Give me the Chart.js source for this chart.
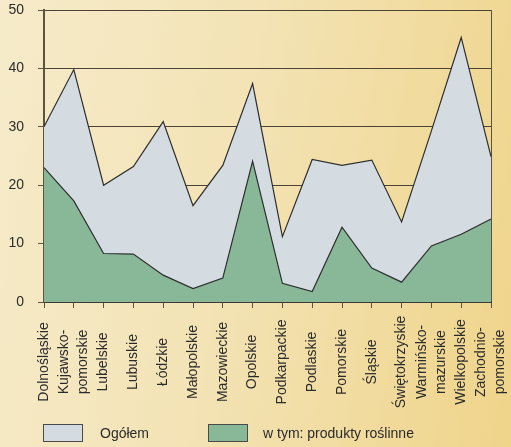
<!DOCTYPE html>
<html>
<head>
<meta charset="utf-8">
<script src="https://cdn.jsdelivr.net/npm/chart.js@4/dist/chart.umd.min.js"></script>
<style>
  html, body { margin: 0; padding: 0; }
  body {
    width: 511px; height: 447px; overflow: hidden;
    background: linear-gradient(100deg, #f6ebca 0%, #f3e3b5 45%, #efd48a 100%);
    font-family: "Liberation Sans", Arial, sans-serif;
  }
  #wrap { position: relative; width: 511px; height: 447px; }
  .box { position: absolute; width: 38px; height: 16px; border: 1px solid #4a4a4a; top: 424px; }
  .lbl { position: absolute; top: 424px; font-size: 14px; line-height: 18px; color: #2b2b2b; white-space: nowrap; }
</style>
</head>
<body>
<div id="wrap">
  <canvas id="chart" width="511" height="447"></canvas>
  <div class="box" style="left:43px;background:#d5dce1"></div>
  <div class="lbl" style="left:100px">Ogółem</div>
  <div class="box" style="left:208px;background:#88b898"></div>
  <div class="lbl" style="left:263px">w tym: produkty roślinne</div>
</div>
<script>
// regiony - dwie linie tam gdzie nazwa jest podzielona
const regiony = [
  "Dolnośląskie", ["Kujawsko-", "pomorskie"], "Lubelskie", "Lubuskie", "Łódzkie",
  "Małopolskie", "Mazowieckie", "Opolskie", "Podkarpackie", "Podlaskie",
  "Pomorskie", "Śląskie", "Świętokrzyskie", ["Warmińsko-", "mazurskie"],
  "Wielkopolskie", ["Zachodnio-", "pomorskie"]
];
const ogolem   = [30.0, 39.8, 20.0, 23.2, 30.9, 16.5, 23.4, 37.4, 11.2, 24.4, 23.4, 24.3, 13.7, 29.3, 45.3, 24.9];
const roslinne = [23.0, 17.3, 8.3, 8.2, 4.6, 2.3, 4.1, 24.1, 3.2, 1.8, 12.8, 5.8, 3.4, 9.6, 11.6, 14.2];
const yTicks = [0, 10, 20, 30, 40, 50];

const textColor = "#2b2b2b";
const gridColor = "#4a4336";
const axisColor = "#5e533f";
const fontFam = '"Liberation Sans", Arial, sans-serif';

// etykiety osi x wysrodkowane w pionie (chart.js przy obrocie wyrownuje do prawej)
const xLabels = {
  id: "xLabels",
  afterDraw(chart) {
    const ctx = chart.ctx;
    const sx = chart.scales.x;
    ctx.save();
    ctx.font = "14px " + fontFam;
    ctx.fillStyle = textColor;
    ctx.textAlign = "center";
    ctx.textBaseline = "middle";
    regiony.forEach((label, i) => {
      const lines = Array.isArray(label) ? label : [label];
      ctx.save();
      ctx.translate(sx.getPixelForTick(i), sx.top + 60);
      ctx.rotate(-Math.PI / 2);
      lines.forEach((line, j) => {
        ctx.fillText(line, 0, (j - (lines.length - 1) / 2) * 19);
      });
      ctx.restore();
    });
    ctx.restore();
  }
};

const myChart = new Chart("chart", {
  type: "line",
  data: {
    labels: regiony,
    datasets: [{
      label: "Ogółem",
      data: ogolem,
      fill: "origin",
      backgroundColor: "#d5dce1",
      borderColor: "#2e2e2e",
      borderWidth: 1.2,
      pointRadius: 0,
      tension: 0,
      order: 2
    }, {
      label: "w tym: produkty roślinne",
      data: roslinne,
      fill: "origin",
      backgroundColor: "#88b898",
      borderColor: "#2e2e2e",
      borderWidth: 1.2,
      pointRadius: 0,
      tension: 0,
      order: 1
    }]
  },
  options: {
    responsive: false,
    animation: false,
    layout: { padding: { top: 10, right: 20, left: 0, bottom: 0 } },
    plugins: { legend: { display: false }, tooltip: { enabled: false } },
    scales: {
      x: {
        z: 1, // os i prawa ramka nad wypelnieniem
        offset: false,
        grid: {
          color: (c) => c.index === regiony.length - 1 ? axisColor : "transparent",
          tickColor: axisColor,
          tickLength: 6
        },
        border: { color: "#3a3a3a", width: 2 },
        ticks: { display: false },
        afterFit(s) { s.height = 145; }
      },
      // linie siatki pod wypelnieniem
      yGrid: {
        axis: "y",
        position: "left",
        min: 0,
        max: 50,
        afterBuildTicks(s) { s.ticks = yTicks.map(v => ({ value: v })); },
        grid: { color: gridColor, drawTicks: false },
        border: { display: false },
        ticks: { display: false },
        afterFit(s) { s.width = 0; s.paddingTop = 0; s.paddingBottom = 0; }
      },
      y: {
        z: 1,
        min: 0,
        max: 50,
        afterBuildTicks(s) { s.ticks = yTicks.map(v => ({ value: v })); },
        grid: { drawOnChartArea: false, tickColor: axisColor, tickLength: 6 },
        border: { color: axisColor, width: 2 },
        ticks: { color: textColor, padding: 14, font: { size: 14, family: fontFam } },
        afterFit(s) { s.width = 44; s.paddingTop = 0; s.paddingBottom = 0; }
      }
    }
  },
  plugins: [xLabels]
});
</script>
</body>
</html>
